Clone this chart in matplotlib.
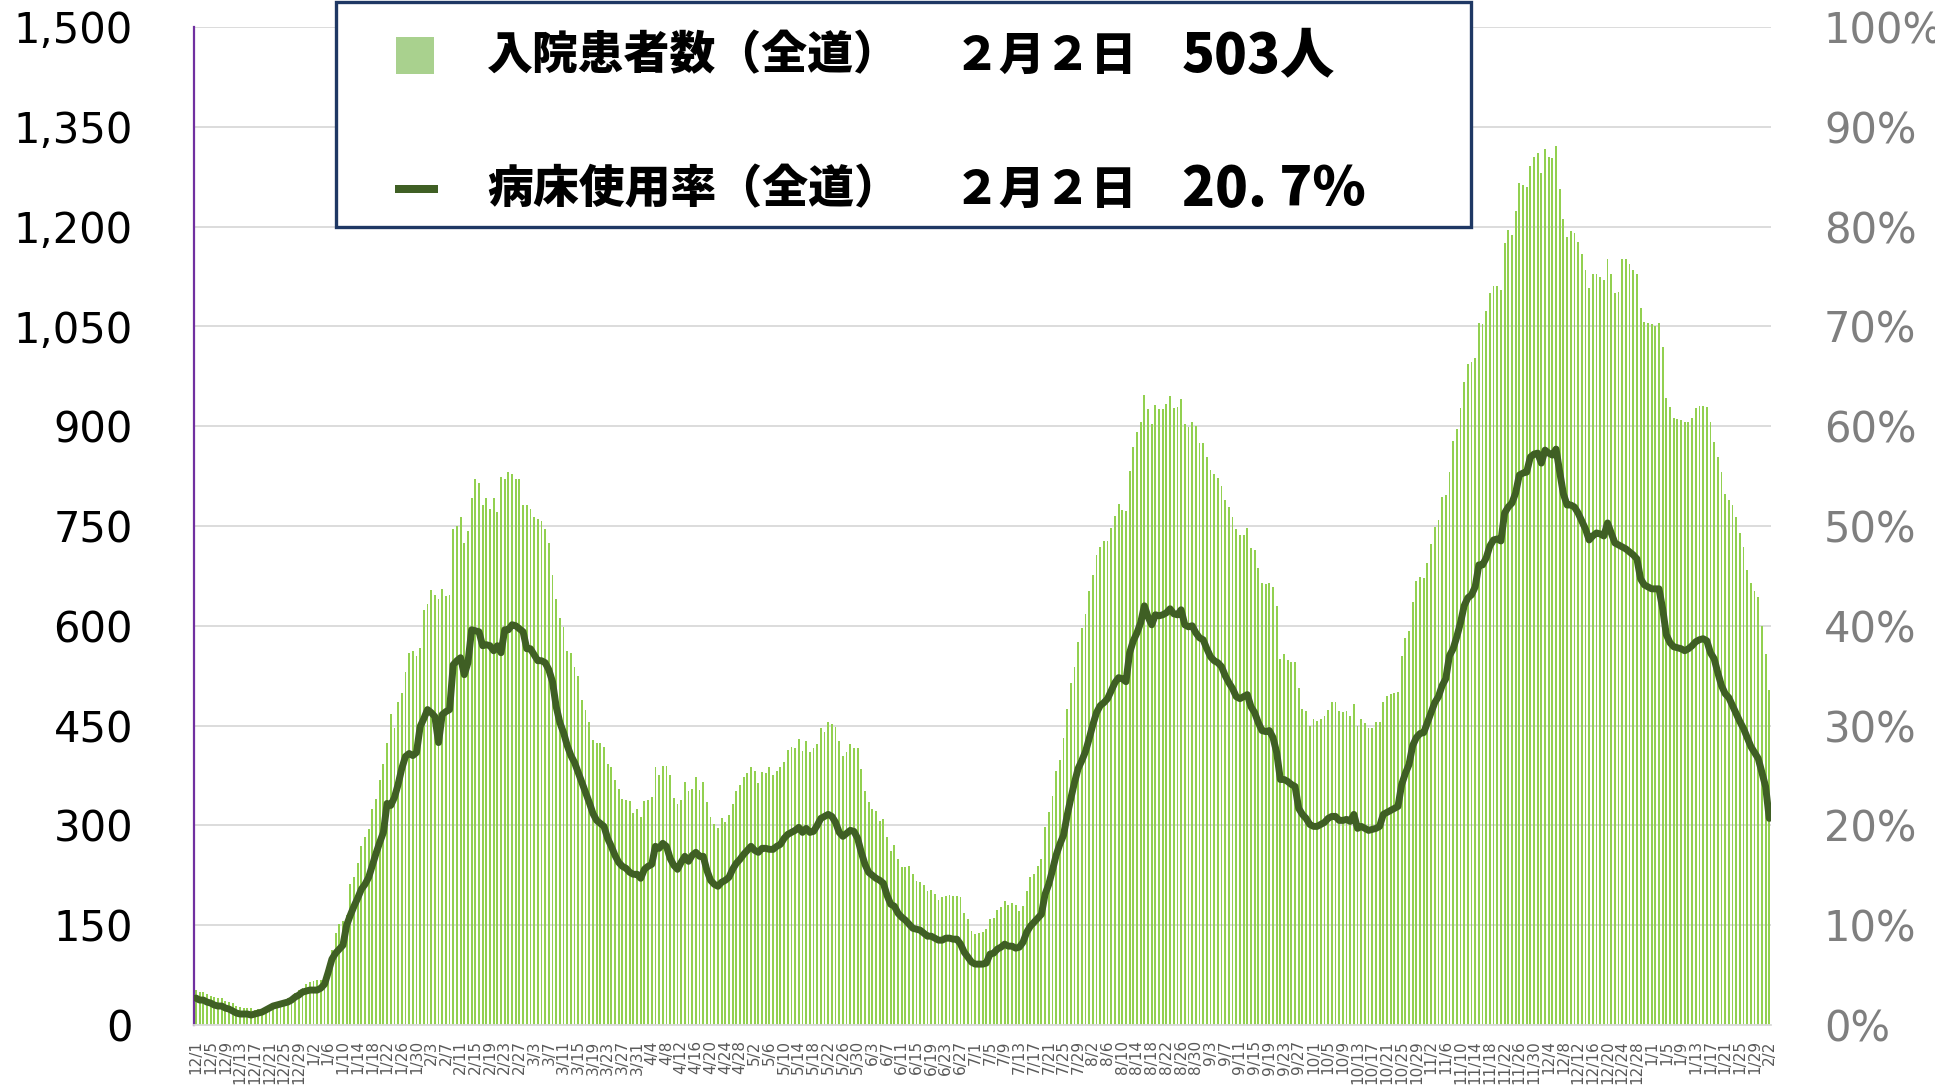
import matplotlib
matplotlib.use("Agg")
import matplotlib.pyplot as plt
from matplotlib.patches import Rectangle
import numpy as np
import pandas as pd

# dates 2021/12/1 - 2023/2/2 (one bar per day)
dates = pd.date_range("2021-12-01", "2023-02-02")
date_labels = [f"{d.month}/{d.day}" for d in dates]

# hospitalised patients (Hokkaido)
patients = [
    53, 50, 49, 47, 44, 42, 41, 40, 36, 35,
    33, 29, 27, 26, 26, 25, 23, 24, 22, 25,
    27, 28, 33, 34, 38, 40, 44, 48, 53, 55,
    61, 64, 66, 67, 68, 74, 92, 113, 138, 152,
    156, 166, 212, 223, 244, 269, 283, 294, 325, 340,
    368, 393, 424, 467, 446, 485, 499, 531, 559, 562,
    555, 566, 623, 633, 654, 647, 640, 655, 644, 647,
    746, 750, 764, 725, 743, 792, 821, 814, 782, 792,
    775, 792, 771, 824, 821, 831, 828, 821, 821, 782,
    782, 775, 764, 761, 757, 746, 725, 676, 640, 612,
    598, 562, 559, 538, 524, 488, 474, 456, 428, 424,
    424, 418, 392, 387, 368, 355, 340, 338, 336, 319,
    325, 313, 336, 338, 342, 387, 376, 390, 390, 376,
    341, 332, 338, 365, 351, 355, 372, 353, 365, 335,
    313, 302, 296, 311, 305, 315, 332, 351, 361, 373,
    379, 387, 382, 363, 380, 378, 387, 376, 382, 387,
    395, 414, 418, 417, 430, 412, 427, 411, 417, 423,
    446, 441, 455, 452, 448, 427, 404, 411, 422, 417,
    417, 384, 351, 335, 325, 321, 306, 310, 283, 262,
    270, 249, 237, 237, 239, 227, 216, 215, 211, 201,
    203, 197, 188, 192, 194, 196, 194, 194, 192, 169,
    159, 142, 137, 139, 140, 144, 159, 161, 173, 177,
    187, 180, 184, 180, 172, 179, 201, 223, 227, 239,
    249, 298, 320, 344, 381, 398, 431, 475, 514, 538,
    576, 597, 618, 652, 676, 706, 719, 728, 727, 747,
    765, 783, 774, 773, 833, 869, 891, 907, 947, 926,
    903, 932, 926, 926, 934, 945, 927, 929, 941, 904,
    898, 907, 900, 874, 874, 854, 834, 828, 822, 810,
    789, 779, 763, 745, 737, 737, 747, 717, 714, 687,
    665, 663, 665, 659, 630, 550, 558, 548, 545, 545,
    506, 475, 472, 449, 460, 457, 460, 465, 473, 485,
    486, 472, 470, 472, 465, 483, 449, 460, 454, 447,
    446, 455, 455, 485, 494, 498, 499, 500, 554, 582,
    592, 636, 667, 674, 672, 694, 723, 749, 759, 793,
    796, 831, 878, 895, 927, 966, 993, 997, 1002, 1055,
    1053, 1073, 1100, 1111, 1111, 1104, 1175, 1195, 1188, 1224,
    1266, 1262, 1260, 1291, 1305, 1311, 1281, 1317, 1305, 1303,
    1321, 1257, 1211, 1184, 1193, 1191, 1177, 1159, 1135, 1108,
    1129, 1129, 1124, 1119, 1151, 1129, 1100, 1102, 1151, 1151,
    1143, 1135, 1129, 1078, 1057, 1055, 1053, 1051, 1055, 1019,
    942, 929, 913, 911, 910, 907, 907, 913, 927, 931,
    931, 929, 907, 876, 853, 831, 798, 789, 781, 764,
    740, 718, 684, 664, 653, 643, 600, 558, 503,
]

# bed occupancy rate (%)
bed_rate = [
    2.7, 2.5, 2.5, 2.3, 2.2, 2.0, 1.9, 1.9, 1.7, 1.6,
    1.4, 1.2, 1.1, 1.1, 1.1, 1.0, 1.1, 1.2, 1.3, 1.5,
    1.7, 1.9, 2.0, 2.1, 2.2, 2.3, 2.5, 2.8, 3.0, 3.3,
    3.4, 3.5, 3.5, 3.5, 3.7, 4.1, 5.3, 6.6, 7.2, 7.6,
    8.0, 10.0, 11.0, 11.9, 12.7, 13.6, 14.1, 14.8, 16.0, 17.2,
    18.3, 19.3, 22.2, 22.0, 22.8, 24.1, 25.7, 26.9, 27.2, 27.0,
    27.3, 29.9, 30.7, 31.6, 31.3, 30.9, 28.3, 31.1, 31.4, 31.6,
    36.1, 36.5, 36.8, 35.1, 36.3, 39.6, 39.5, 39.4, 38.0, 38.1,
    38.0, 37.5, 38.0, 37.3, 39.6, 39.6, 40.1, 40.0, 39.7, 39.4,
    37.7, 37.7, 37.1, 36.5, 36.5, 36.3, 35.6, 34.4, 31.9, 30.3,
    29.3, 28.0, 27.0, 26.3, 25.3, 24.3, 23.3, 22.3, 21.2, 20.5,
    20.2, 19.9, 18.7, 17.9, 17.0, 16.3, 15.9, 15.7, 15.3, 15.1,
    15.1, 14.7, 15.6, 15.9, 16.1, 17.9, 17.7, 18.2, 17.9, 16.7,
    16.0, 15.6, 16.3, 16.9, 16.4, 17.0, 17.3, 16.9, 16.9, 15.5,
    14.5, 14.1, 13.9, 14.3, 14.5, 14.8, 15.6, 16.2, 16.6, 17.1,
    17.5, 17.9, 17.5, 17.3, 17.7, 17.7, 17.6, 17.6, 17.9, 18.1,
    18.7, 19.1, 19.3, 19.5, 19.8, 19.3, 19.7, 19.3, 19.4, 20.0,
    20.7, 20.9, 21.1, 20.9, 20.3, 19.3, 18.9, 19.2, 19.5, 19.4,
    18.7, 17.3, 16.1, 15.3, 15.0, 14.7, 14.5, 14.2, 13.0, 12.1,
    11.9, 11.2, 10.8, 10.5, 10.1, 9.7, 9.6, 9.5, 9.2, 8.9,
    8.9, 8.7, 8.5, 8.5, 8.7, 8.7, 8.6, 8.6, 8.1, 7.3,
    6.8, 6.3, 6.1, 6.1, 6.1, 6.2, 7.1, 7.2, 7.6, 7.8,
    8.1, 7.9, 7.9, 7.7, 7.8, 8.3, 9.3, 9.9, 10.3, 10.7,
    11.1, 13.1, 14.1, 15.5, 17.0, 18.1, 19.0, 21.0, 22.7, 24.3,
    25.7, 26.5, 27.4, 28.7, 30.1, 31.3, 32.0, 32.3, 32.7, 33.5,
    34.3, 34.8, 34.7, 34.4, 37.3, 38.5, 39.3, 40.3, 42.0, 40.9,
    40.1, 41.1, 41.0, 41.1, 41.3, 41.7, 41.2, 41.1, 41.6, 40.1,
    39.9, 40.0, 39.3, 38.8, 38.6, 37.7, 36.9, 36.5, 36.3, 35.9,
    35.0, 34.3, 33.7, 32.9, 32.7, 32.9, 33.1, 31.9, 31.3, 30.3,
    29.5, 29.4, 29.5, 28.8, 27.3, 24.6, 24.6, 24.4, 24.1, 23.9,
    21.7, 21.1, 20.7, 20.1, 19.9, 19.9, 20.1, 20.3, 20.7, 20.9,
    20.9, 20.5, 20.5, 20.6, 20.4, 21.1, 19.7, 19.9, 19.7, 19.5,
    19.6, 19.7, 19.9, 21.1, 21.3, 21.5, 21.7, 21.9, 24.1, 25.2,
    26.1, 28.0, 28.8, 29.2, 29.3, 30.3, 31.3, 32.3, 32.9, 34.0,
    34.7, 37.0, 37.7, 38.9, 40.3, 42.0, 42.8, 43.1, 43.9, 46.1,
    46.1, 46.8, 48.0, 48.6, 48.7, 48.5, 51.3, 51.9, 52.3, 53.3,
    55.1, 55.3, 55.4, 56.9, 57.2, 57.3, 56.3, 57.6, 57.3, 57.1,
    57.7, 55.4, 53.2, 52.1, 52.1, 51.9, 51.3, 50.5, 49.7, 48.6,
    49.0, 49.3, 49.2, 49.0, 50.3, 49.3, 48.3, 48.1, 47.9, 47.7,
    47.4, 47.1, 46.7, 44.7, 44.1, 43.9, 43.7, 43.7, 43.7, 41.7,
    39.1, 38.3, 37.9, 37.8, 37.7, 37.5, 37.7, 38.0, 38.4, 38.6,
    38.7, 38.5, 37.3, 36.7, 35.3, 34.0, 33.2, 32.8, 32.0, 31.2,
    30.4, 29.7, 28.8, 27.9, 27.3, 26.7, 25.3, 23.9, 20.7,
]

left_ticks = list(range(0, 1501, 150))
right_ticks = list(range(0, 101, 10))

bar_color = "#92D050"
line_color = "#3F5F24"

x = np.arange(len(dates))

fig = plt.figure(figsize=(19.35, 10.91), dpi=100)
ax = fig.add_axes([0.1003, 0.0605, 0.8150, 0.9148])

ax.bar(x, patients, width=0.5, color=bar_color, zorder=2)
ax.set_xlim(-0.5, len(x) - 0.5)
ax.set_ylim(0, 1500)
ax.set_yticks(left_ticks)
ax.set_yticklabels([f"{v:,}" for v in left_ticks], fontsize=30, color="black")
ax.set_xticks(x[::4])
ax.set_xticklabels(date_labels[::4], rotation=90, fontsize=11, color="#595959")
ax.tick_params(axis="y", length=0, pad=44)
ax.tick_params(axis="x", length=0, pad=11)
ax.grid(axis="y", color="#D9D9D9", linewidth=1.3)
ax.set_axisbelow(True)
for s in ["top", "right"]:
    ax.spines[s].set_visible(False)
ax.spines["left"].set_color("#7030A0")
ax.spines["left"].set_linewidth(1.6)
ax.spines["bottom"].set_color("#D9D9D9")
ax.spines["bottom"].set_linewidth(1.3)

ax2 = ax.twinx()
ax2.plot(x, bed_rate, color=line_color, linewidth=5, solid_joinstyle="round",
         solid_capstyle="round")
ax2.set_ylim(0, 100)
ax2.set_yticks(right_ticks)
ax2.set_yticklabels([f"{v}%" for v in right_ticks], fontsize=30, color="#7F7F7F")
ax2.tick_params(axis="y", length=0, pad=38)
for s in ax2.spines.values():
    s.set_visible(False)

# legend box with today's numbers
W, H = 1935.0, 1091.0
fig.add_artist(Rectangle((336 / W, 1 - 227 / H), 1135 / W, 225 / H,
                         transform=fig.transFigure, facecolor="white",
                         edgecolor="#1F3864", linewidth=2.4, zorder=10))
fig.add_artist(Rectangle((396 / W, 1 - 74 / H), 38 / W, 37 / H,
                         transform=fig.transFigure, facecolor="#A9D18E",
                         edgecolor="none", zorder=11))
fig.add_artist(Rectangle((395 / W, 1 - 193 / H), 43 / W, 8 / H,
                         transform=fig.transFigure, facecolor=line_color,
                         edgecolor="none", zorder=11))

jp = ["Noto Sans CJK JP", "DejaVu Sans"]
row1, row2 = 1 - 56 / H, 1 - 190 / H
for y, label, value in [(row1, "入院患者数（全道）", "503人"),
                        (row2, "病床使用率（全道）", "20. 7%")]:
    fig.text(487 / W, y, label, fontsize=33, fontweight="heavy", family=jp,
             ha="left", va="center", zorder=12)
    fig.text(954 / W, y, "２月２日", fontsize=33, fontweight="heavy", family=jp,
             ha="left", va="center", zorder=12)
    fig.text(1182 / W, y, value, fontsize=39, fontweight="heavy", family=jp,
             ha="left", va="center", zorder=12)

fig.savefig("out.png", dpi=100)
